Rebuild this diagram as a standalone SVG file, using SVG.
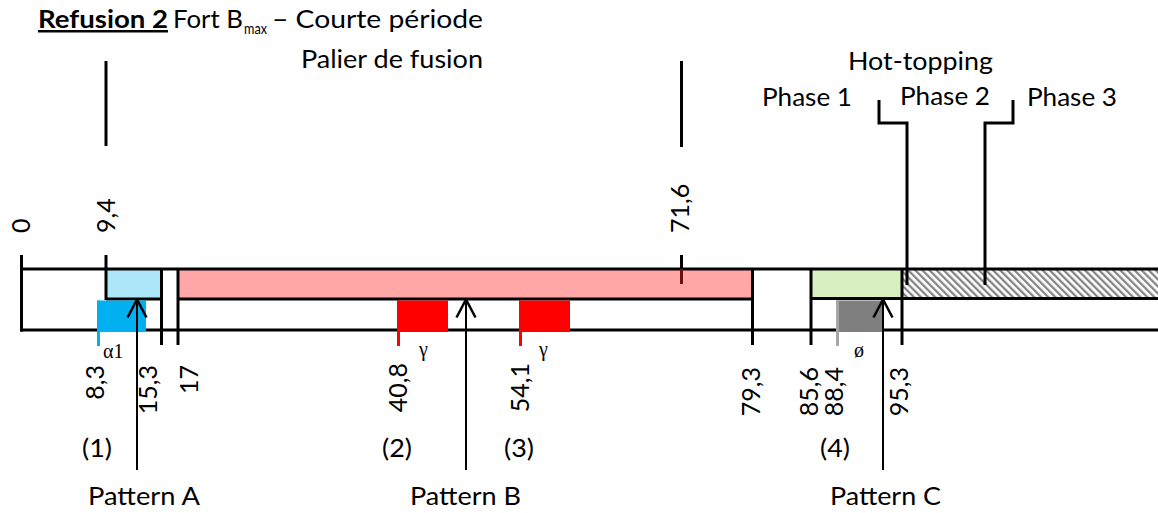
<svg xmlns="http://www.w3.org/2000/svg" width="1158" height="513" viewBox="0 0 1158 513">
<style>
.ln{stroke:#000;stroke-width:3;fill:none}
.ar{stroke:#000;stroke-width:2;fill:none}
.t{font-family:Lato,"Liberation Sans",sans-serif;font-size:25px;fill:#000}
.n{font-family:Lato,"Liberation Sans",sans-serif;font-size:25px;fill:#000}
.s{font-family:"Liberation Serif",serif;font-size:20px;fill:#000}
</style>
<defs>
<pattern id="hatch" width="5" height="5" patternUnits="userSpaceOnUse" patternTransform="rotate(-45)">
<rect width="5" height="5" fill="#fff"/>
<line x1="1.2" y1="0" x2="1.2" y2="5" stroke="#7f7f7f" stroke-width="2.2"/>
</pattern>
<marker id="head" viewBox="-20 -11 22 22" markerWidth="22" markerHeight="22" refX="0" refY="0" markerUnits="userSpaceOnUse" orient="auto">
<path d="M-18,-9.5 L0,0 L-18,9.5" fill="none" stroke="#000" stroke-width="2.5"/>
</marker>
</defs>
<rect width="1158" height="513" fill="#fff"/>

<g id="title">
<text class="t" x="38" y="28" font-weight="bold" text-decoration="underline" textLength="130" lengthAdjust="spacingAndGlyphs">Refusion 2</text>
<text class="t" x="173" y="28" textLength="70" lengthAdjust="spacingAndGlyphs">Fort B</text>
<text class="t" x="244" y="34" style="font-size:15px" textLength="23" lengthAdjust="spacingAndGlyphs">max</text>
<text class="t" x="272" y="28" textLength="211" lengthAdjust="spacingAndGlyphs">– Courte période</text>
</g>

<g id="palier">
<text class="t" x="301" y="68" textLength="182" lengthAdjust="spacingAndGlyphs">Palier de fusion</text>
<path class="ln" d="M106,61 V146"/>
<path class="ln" d="M681.5,61 V147"/>
</g>

<g id="hot-topping">
<text class="t" x="848" y="70" textLength="145" lengthAdjust="spacingAndGlyphs">Hot-topping</text>
<text class="t" x="762" y="106" textLength="90" lengthAdjust="spacingAndGlyphs">Phase 1</text>
<text class="t" x="900" y="105" textLength="90" lengthAdjust="spacingAndGlyphs">Phase 2</text>
<text class="t" x="1027" y="106" textLength="90" lengthAdjust="spacingAndGlyphs">Phase 3</text>
</g>

<g id="bar">
<rect x="106" y="269" width="55.5" height="30" fill="#aee6f9"/>
<rect x="178" y="269" width="574.5" height="30" fill="#ffa7a7"/>
<rect x="811" y="269" width="91" height="29.5" fill="#d8efc2"/>
<rect x="902" y="269" width="256" height="29.5" fill="url(#hatch)"/>
<path class="ln" d="M20,269 H1158"/>
<path class="ln" d="M20,330 H1158"/>
<path class="ln" d="M21.5,255 V331.5"/>
<path class="ln" d="M106,299 H161.5"/>
<path class="ln" d="M178,299 H752.5"/>
<path class="ln" d="M811,298.5 H1158"/>
<path class="ln" d="M106,255 V300"/>
<path class="ln" d="M161.5,269 V345"/>
<path class="ln" d="M178,269 V345"/>
<path class="ln" d="M752.5,269 V345"/>
<path class="ln" d="M811,269 V345"/>
<path class="ln" d="M902,269 V345"/>
<path class="ln" d="M681.5,255 V269"/>
<path d="M681.5,269 V284" stroke="#6e0f0f" stroke-width="3"/>
</g>

<g id="alpha1">
<rect x="97" y="300.5" width="49" height="31.5" fill="#00b0f0"/>
<path d="M98.5,300.5 V346" stroke="#00b0f0" stroke-width="3"/>
<text class="s" x="103" y="358">α1</text>
</g>
<g id="gamma1">
<rect x="397" y="300.5" width="51" height="31.5" fill="#ff0000"/>
<path d="M398.5,300.5 V346" stroke="#ff0000" stroke-width="3"/>
<text class="s" x="419" y="356">γ</text>
</g>
<g id="gamma2">
<rect x="519" y="300.5" width="51" height="31.5" fill="#ff0000"/>
<path d="M520.5,300.5 V346" stroke="#ff0000" stroke-width="3"/>
<text class="s" x="539" y="356">γ</text>
</g>
<g id="phi">
<rect x="836" y="300.5" width="47" height="31.5" fill="#7f7f7f"/>
<path d="M837.5,300.5 V346" stroke="#a6a6a6" stroke-width="3"/>
<text class="s" x="854" y="357">ø</text>
</g>

<g id="values">
<text class="n" transform="translate(30,233) rotate(-90)">0</text>
<text class="n" transform="translate(115,233) rotate(-90)">9,4</text>
<text class="n" transform="translate(689,233) rotate(-90)">71,6</text>
<text class="n" text-anchor="end" transform="translate(104,365) rotate(-90)">8,3</text>
<text class="n" text-anchor="end" transform="translate(157,365) rotate(-90)">15,3</text>
<text class="n" text-anchor="end" transform="translate(198,365) rotate(-90)">17</text>
<text class="n" text-anchor="end" transform="translate(407,363) rotate(-90)">40,8</text>
<text class="n" text-anchor="end" transform="translate(529,363) rotate(-90)">54,1</text>
<text class="n" text-anchor="end" transform="translate(760,367) rotate(-90)">79,3</text>
<text class="n" text-anchor="end" transform="translate(818,367) rotate(-90)">85,6</text>
<text class="n" text-anchor="end" transform="translate(843,367) rotate(-90)">88,4</text>
<text class="n" text-anchor="end" transform="translate(908,367) rotate(-90)">95,3</text>
</g>

<g id="numbers">
<text class="t" x="82" y="457" textLength="30" lengthAdjust="spacingAndGlyphs">(1)</text>
<text class="t" x="382" y="457" textLength="30" lengthAdjust="spacingAndGlyphs">(2)</text>
<text class="t" x="504" y="457" textLength="30" lengthAdjust="spacingAndGlyphs">(3)</text>
<text class="t" x="820" y="457" textLength="30" lengthAdjust="spacingAndGlyphs">(4)</text>
</g>

<g id="patternA"><text class="t" x="88" y="505" textLength="112" lengthAdjust="spacingAndGlyphs">Pattern A</text></g>
<g id="patternB"><text class="t" x="410" y="505" textLength="111" lengthAdjust="spacingAndGlyphs">Pattern B</text></g>
<g id="patternC"><text class="t" x="830" y="505" textLength="111" lengthAdjust="spacingAndGlyphs">Pattern C</text></g>

<g id="connectors">
<path class="ar" d="M137,470 V299.5" marker-end="url(#head)"/>
<path class="ar" d="M466,470 V299.5" marker-end="url(#head)"/>
<path class="ar" d="M883,470 V299.5" marker-end="url(#head)"/>
<path class="ln" d="M879,100 V123 H907 V285"/>
<path class="ln" d="M1013,100 V123 H985 V285"/>
</g>
</svg>
